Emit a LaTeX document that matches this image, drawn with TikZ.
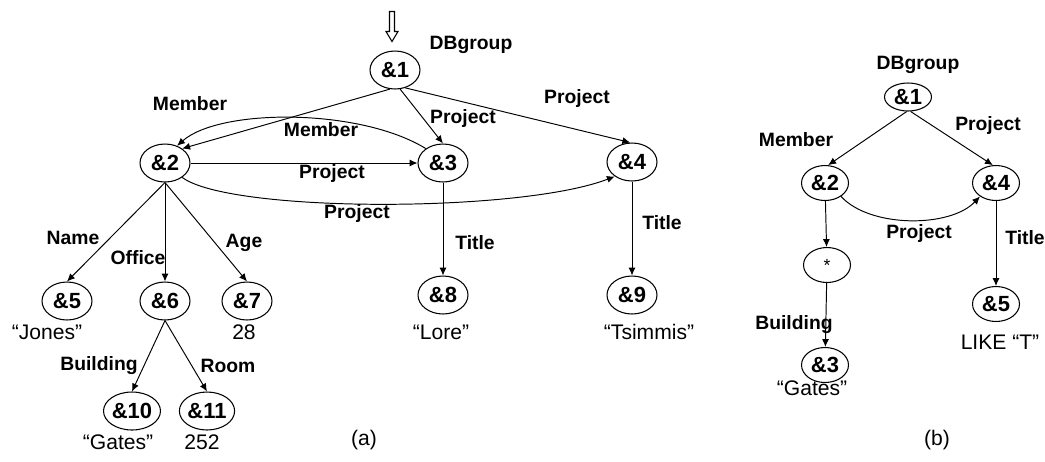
\documentclass[tikz,border=0pt]{standalone}
\usepackage{fontspec}
\setmainfont{Liberation Sans}
\usetikzlibrary{shapes.geometric, arrows.meta, calc}

\begin{document}
\begin{tikzpicture}[
        x=0.02cm, y=-0.02cm,
        obj/.style={ellipse, draw, line width=0.6pt, minimum width=1cm, minimum height=0.76cm, inner sep=0pt, font=\fontsize{12.5}{14}\selectfont\bfseries},
        objb/.style={obj, minimum width=0.94cm, minimum height=0.7cm},
        arrow/.style={-{Latex[length=4.5pt, width=4pt]}, line width=0.55pt},
        lbl/.style={inner sep=0pt, font=\fontsize{11}{13}\selectfont\bfseries},
        val/.style={inner sep=0pt, font=\fontsize{12}{14}\selectfont}
    ]
        \useasboundingbox (0,0) rectangle (1045,461);

        % (a) the database
        \node[obj] (a1) at (395,70) {\&1};
        \node[obj] (a2) at (165,163) {\&2};
        \node[obj] (a3) at (443,163) {\&3};
        \node[obj] (a4) at (632,162) {\&4};
        \node[obj] (a5) at (67,301) {\&5};
        \node[obj] (a6) at (165,301) {\&6};
        \node[obj] (a7) at (247,301) {\&7};
        \node[obj] (a8) at (443,295) {\&8};
        \node[obj] (a9) at (632,295) {\&9};
        \node[obj] (a10) at (132,411) {\&10};
        \node[obj] (a11) at (207,411) {\&11};

        % entry point
        \draw[line width=0.6pt, shift={($(a1.north)+(-3,-9)$)}] (0,0) -- (-6,-10) -- (-2.5,-10) -- (-2.5,-30) -- (2.5,-30) -- (2.5,-10) -- (6,-10) -- cycle;

        \draw[arrow] (a1.255) -- (a2.40);
        \draw[arrow] (a3.140) .. controls (360,108) and (220,108) .. (a2.55);
        \draw[arrow] (a1.285) -- (a3.north);
        \draw[arrow] (a1.300) -- (a4.95);
        \draw[arrow] (a2) -- (a3);
        \draw[arrow] (a2.-40) .. controls (230,213) and (520,213) .. (a4.-140);
        \draw[arrow] (a2.south) -- (a5.north);
        \draw[arrow] (a2) -- (a6);
        \draw[arrow] (a2.south) -- (a7.north);
        \draw[arrow] (a6.south) -- (a10.north);
        \draw[arrow] (a6.south) -- (a11.north);
        \draw[arrow] (a3) -- (a8);
        \draw[arrow] (a4) -- (a9);

        \node[lbl] (la1) at (471,45) {DBgroup};
        \node[lbl] (la2) at (190,104) {Member};
        \node[lbl] (la3) at (321,130) {Member};
        \node[lbl] (la4) at (463,118) {Project};
        \node[lbl] (la5) at (577,98) {Project};
        \node[lbl] (la6) at (332,173) {Project};
        \node[lbl] (la7) at (357,213) {Project};
        \node[lbl] (la8) at (73,238) {Name};
        \node[lbl] (la9) at (138,258) {Office};
        \node[lbl] (la10) at (244,243) {Age};
        \node[lbl] (la11) at (99,366) {Building};
        \node[lbl] (la12) at (228,366) {Room};
        \node[lbl] (la13) at (475,243) {Title};
        \node[lbl] (la14) at (662,223) {Title};

        \node[val] (va5) at (47,332) {“Jones”};
        \node[val] (va7) at (244,332) {28};
        \node[val] (va10) at (118,442) {“Gates”};
        \node[val] (va11) at (202,442) {252};
        \node[val] (va8) at (441,332) {“Lore”};
        \node[val] (va9) at (649,332) {“Tsimmis”};
        \node[val] (capa) at (364,440) {(a)};

        % (b) the query
        \node[objb, minimum height=0.56cm] (b1) at (908,97) {\&1};
        \node[objb] (b2) at (825,183) {\&2};
        \node[objb] (b4) at (996,183) {\&4};
        \node[objb, font=\normalfont] (bs) at (827,265) {*};
        \node[objb] (b3) at (825,365) {\&3};
        \node[objb] (b5) at (996,304) {\&5};

        \draw[arrow] (b1.265) -- (b2.80);
        \draw[arrow] (b1.280) -- (b4.100);
        \draw[arrow] (b2.-40) .. controls (870,228) and (950,228) .. (b4.-140);
        \draw[arrow] (b2) -- (bs);
        \draw[arrow] (bs) -- (b3);
        \draw[arrow] (b4) -- (b5);

        \node[lbl] (lb1) at (918,65) {DBgroup};
        \node[lbl] (lb2) at (796,140) {Member};
        \node[lbl] (lb3) at (988,125) {Project};
        \node[lbl] (lb4) at (919,233) {Project};
        \node[lbl] (lb5) at (1025,238) {Title};
        \node[lbl] (lb6) at (794,325) {Building};

        \node[val] (vb3) at (812,388) {“Gates”};
        \node[val] (vb5) at (1000,342) {LIKE “T”};
        \node[val] (capb) at (937,440) {(b)};
    \end{tikzpicture}
\end{document}
